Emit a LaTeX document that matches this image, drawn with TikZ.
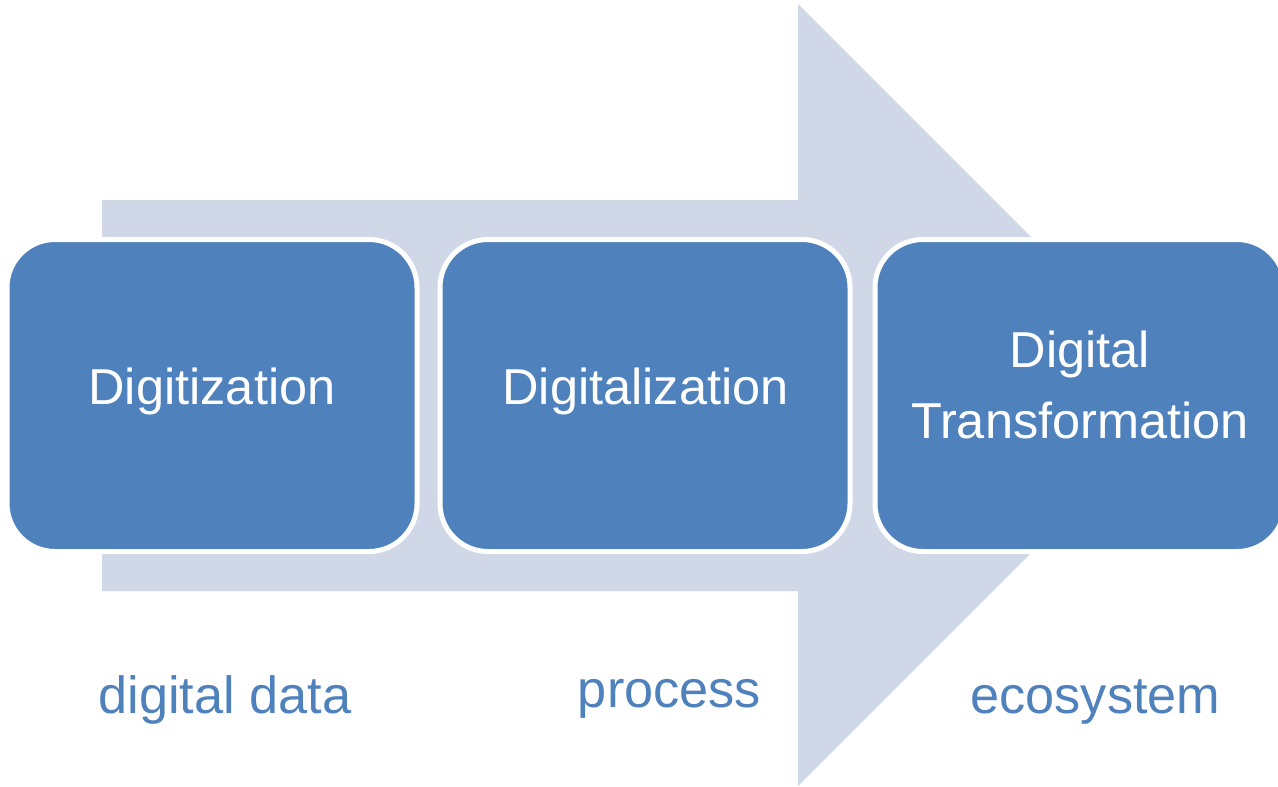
\documentclass[tikz,border=0pt]{standalone}
\usepackage{fontspec}
\setmainfont{Liberation Sans}
\definecolor{boxblue}{HTML}{4F81BD}
\definecolor{arrowgray}{HTML}{D0D8E8}
\begin{document}
\begin{tikzpicture}[x=1pt,y=-1pt,
  stage/.style={draw=white, line width=5pt, fill=boxblue, rounded corners=48pt,
    minimum width=410pt, minimum height=312pt, inner sep=0pt, outer sep=0pt},
  boxtext/.style={text=white, font=\fontsize{50.5}{60}\selectfont, anchor=base, inner sep=0pt},
  labeltext/.style={text=boxblue, font=\fontsize{52.3}{62}\selectfont, anchor=base, inner sep=0pt}]
\useasboundingbox (0,0) rectangle (1278,787);
\clip (0,0) rectangle (1278,787);
\fill[arrowgray] (102,200) -- (798,200) -- (798,4) -- (1189,395) -- (798,786) -- (798,591) -- (102,591) -- cycle;
\node[stage] (b1) at (212,395.5) {};
\node[stage] (b2) at (645,395.5) {};
\node[stage] (b3) at (1080,395.5) {};
\node[boxtext] (t1) at (212,404) {Digitization};
\node[boxtext] (t2) at (645.5,404) {Digitalization};
\node[boxtext] (t3a) at (1080,367) {Digital};
\node[boxtext] (t3b) at (1080,438) {Transformation};
\node[labeltext] (l1) at (225,713) {digital data};
\node[labeltext] (l2) at (669.5,707) {process};
\node[labeltext] (l3) at (1095.5,713) {ecosystem};
\end{tikzpicture}
\end{document}
